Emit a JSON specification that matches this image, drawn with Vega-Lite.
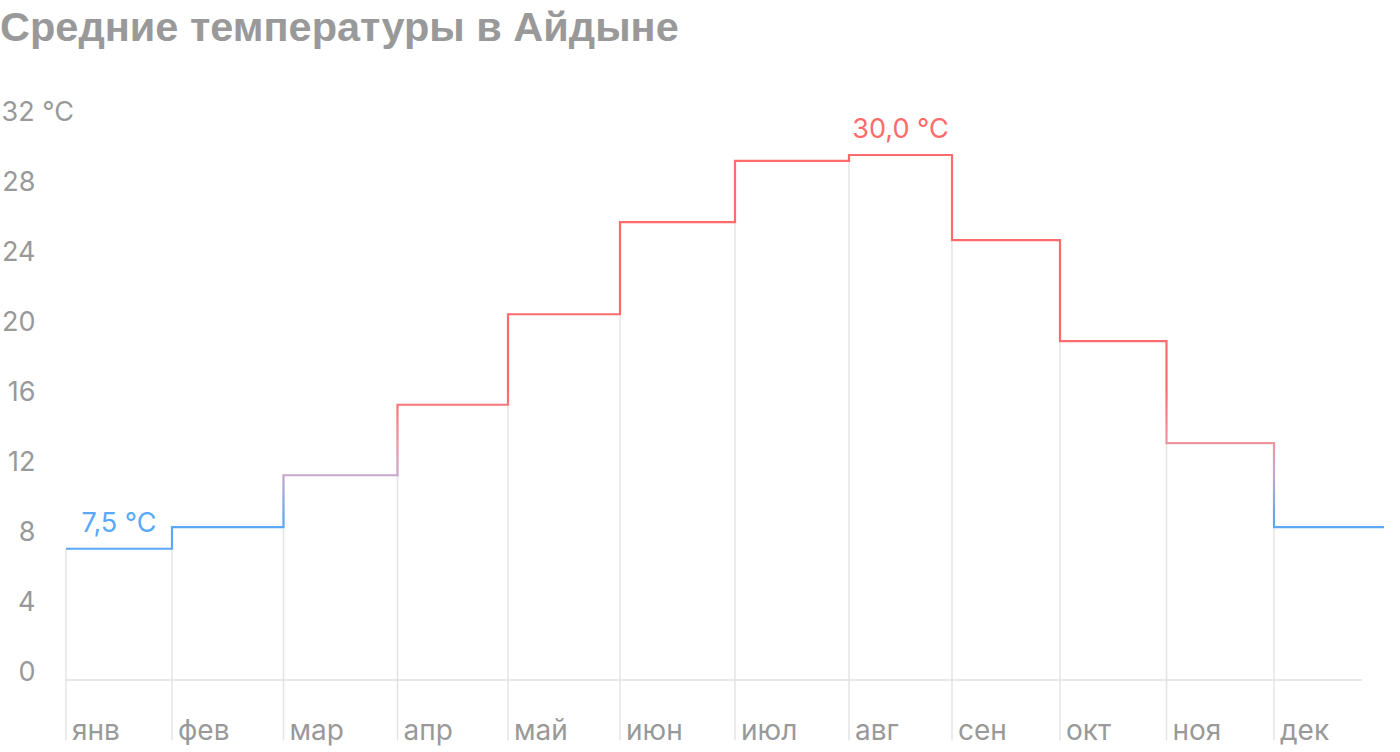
{
  "$schema": "https://vega.github.io/schema/vega-lite/v6.json",
  "autosize": {"type": "none"},
  "width": 1296,
  "height": 560,
  "padding": {"left": 66, "top": 120, "right": 38, "bottom": 72},
  "background": "white",
  "config": {"view": {"stroke": null}, "font": "Inter"},
  "title": {
    "text": "Средние температуры в Айдыне",
    "anchor": "start",
    "frame": "group",
    "dx": -66,
    "offset": 49,
    "font": "Liberation Sans",
    "fontSize": 41.5,
    "fontWeight": "bold",
    "color": "#999999"
  },
  "datasets": {
    "temps": [
      {"month": "янв", "start": 0, "temp": 7.5},
      {"month": "фев", "start": 106, "temp": 8.74},
      {"month": "мар", "start": 217.5, "temp": 11.7},
      {"month": "апр", "start": 331.5, "temp": 15.73},
      {"month": "май", "start": 442, "temp": 20.9},
      {"month": "июн", "start": 554, "temp": 26.17},
      {"month": "июл", "start": 669, "temp": 29.67},
      {"month": "авг", "start": 783, "temp": 30.0},
      {"month": "сен", "start": 886, "temp": 25.14},
      {"month": "окт", "start": 994, "temp": 19.37},
      {"month": "ноя", "start": 1100.5, "temp": 13.54},
      {"month": "дек", "start": 1208, "temp": 8.74},
      {"month": null, "start": 1318, "temp": 8.74}
    ],
    "notes": [
      {"x": 53, "temp": 7.5, "text": "7,5 °C", "kind": "cold"},
      {"x": 834.5, "temp": 30.0, "text": "30,0 °C", "kind": "hot"}
    ],
    "base": [
      {"a": 0, "b": 1296, "z": 0}
    ]
  },
  "encoding": {
    "x": {"field": "start", "type": "quantitative", "scale": {"domain": [0, 1296], "nice": false, "zero": false}, "axis": null},
    "y": {"field": "temp", "type": "quantitative", "scale": {"domain": [0, 32], "nice": false},
      "axis": {
        "values": [0, 4, 8, 12, 16, 20, 24, 28, 32],
        "domain": false, "ticks": false, "tickSize": 0, "grid": false, "title": null,
        "labelExpr": "datum.value == 32 ? '32 °C' : datum.label",
        "labelAlign": {"condition": {"test": "datum.value == 32", "value": "left"}, "value": "right"},
        "labelPadding": {"condition": {"test": "datum.value == 32", "value": 65}, "value": 31},
        "labelBaseline": "alphabetic",
        "labelFontSize": 27,
        "labelColor": "#999999",
        "labelFont": "Inter"
      }
    }
  },
  "layer": [
    {
      "data": {"name": "temps"},
      "transform": [{"filter": "datum.month != null"}],
      "mark": {"type": "rule", "color": "#e4e4e4", "strokeWidth": 1.5},
      "encoding": {
        "y2": {"datum": -3.45}
      }
    },
    {
      "data": {"name": "base"},
      "mark": {"type": "rule", "color": "#e0e0e0", "strokeWidth": 1.5},
      "encoding": {
        "x": {"field": "a", "type": "quantitative"},
        "x2": {"field": "b"},
        "y": {"field": "z", "type": "quantitative"}
      }
    },
    {
      "data": {"name": "temps"},
      "mark": {
        "type": "line",
        "interpolate": "step-after",
        "strokeWidth": 2.2,
        "stroke": {
          "gradient": "linear",
          "x1": 0, "y1": 0, "x2": 0, "y2": 1,
          "stops": [
            {"offset": 0, "color": "#ff6b6b"},
            {"offset": 0.6, "color": "#ff6b6b"},
            {"offset": 0.73, "color": "#f0959f"},
            {"offset": 0.81, "color": "#caa8cc"},
            {"offset": 0.93, "color": "#5ca8f7"},
            {"offset": 1, "color": "#5ca8f7"}
          ]
        }
      }
    },
    {
      "data": {"name": "temps"},
      "transform": [{"filter": "datum.month != null"}],
      "mark": {"type": "text", "align": "left", "baseline": "alphabetic", "dx": 6, "fontSize": 28, "color": "#999999", "font": "Inter"},
      "encoding": {
        "y": {"datum": -3.4},
        "text": {"field": "month"}
      }
    },
    {
      "data": {"name": "notes"},
      "mark": {"type": "text", "align": "center", "baseline": "alphabetic", "dy": -17, "fontSize": 27, "font": "Inter"},
      "encoding": {
        "x": {"field": "x", "type": "quantitative"},
        "text": {"field": "text"},
        "color": {"field": "kind", "type": "nominal", "scale": {"domain": ["cold", "hot"], "range": ["#5aa8f8", "#ff6b6b"]}, "legend": null}
      }
    }
  ]
}
